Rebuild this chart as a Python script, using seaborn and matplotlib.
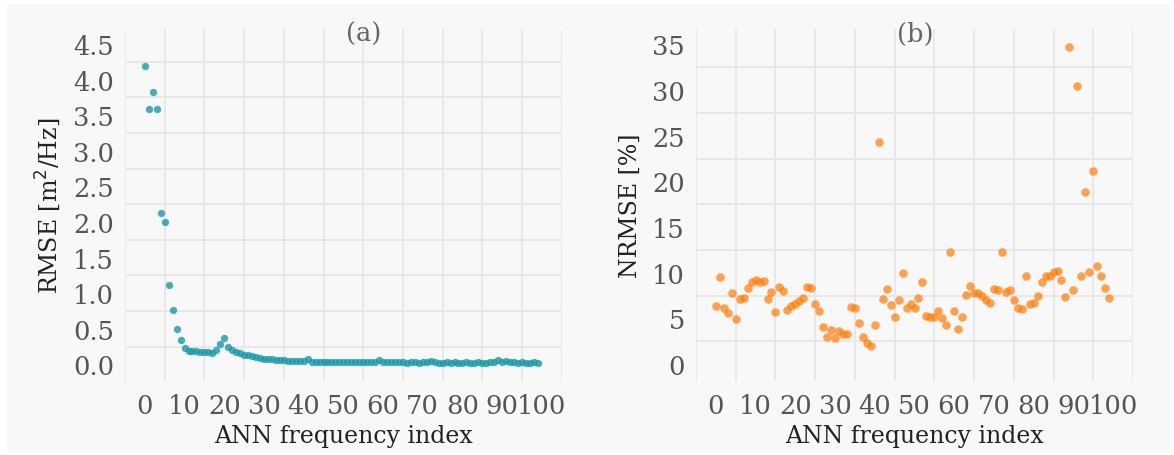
import numpy as np
import pandas as pd
import matplotlib
matplotlib.use("Agg")
import matplotlib.pyplot as plt
from matplotlib.ticker import FixedLocator
from matplotlib.patches import Rectangle
import seaborn as sns

# ANN frequency indices
freq_index = list(range(100))

# RMSE per frequency [m^2/Hz]
rmse = [
    4.19, 3.59, 3.82, 3.58, 2.13, 2.00, 1.11, 0.77, 0.50, 0.34,
    0.23, 0.19, 0.185, 0.185, 0.18, 0.18, 0.17, 0.155, 0.20, 0.28,
    0.37, 0.25, 0.20, 0.175, 0.156, 0.137, 0.128, 0.114, 0.10, 0.09,
    0.08, 0.076, 0.07, 0.065, 0.06, 0.055, 0.05, 0.047, 0.044, 0.043,
    0.042, 0.08, 0.035, 0.033, 0.032, 0.03, 0.03, 0.038, 0.03, 0.028,
    0.027, 0.027, 0.028, 0.026, 0.027, 0.026, 0.027, 0.026, 0.028, 0.058,
    0.03, 0.026, 0.027, 0.026, 0.026, 0.027, 0.025, 0.026, 0.026, 0.025,
    0.026, 0.027, 0.04, 0.026, 0.025, 0.025, 0.026, 0.025, 0.026, 0.025,
    0.025, 0.026, 0.025, 0.025, 0.026, 0.025, 0.025, 0.026, 0.03, 0.06,
    0.03, 0.04, 0.027, 0.026, 0.025, 0.026, 0.025, 0.025, 0.026, 0.025,
]

# Normalised RMSE per frequency [%]
nrmse = [
    6.36, 9.54, 6.10, 5.56, 7.80, 4.94, 7.10, 7.24, 8.30, 8.96,
    9.24, 8.96, 9.10, 7.13, 7.93, 5.70, 8.44, 7.97, 5.92, 6.32,
    6.58, 6.94, 7.27, 8.46, 8.30, 6.62, 5.81, 4.10, 2.97, 3.73,
    2.82, 3.62, 3.33, 3.30, 6.29, 6.18, 4.50, 3.00, 2.28, 2.02,
    4.32, 24.35, 7.13, 8.22, 6.44, 5.12, 7.05, 9.95, 6.12, 6.55,
    6.18, 7.24, 8.99, 5.27, 5.19, 5.16, 5.78, 5.01, 4.25, 12.30,
    5.81, 3.81, 5.19, 7.53, 8.58, 7.82, 7.75, 7.42, 7.05, 6.69,
    8.22, 8.15, 12.27, 7.84, 8.08, 7.05, 6.18, 6.03, 9.68, 6.55,
    6.66, 7.46, 8.96, 9.61, 9.68, 10.05, 10.16, 9.21, 7.31, 34.70,
    8.08, 30.50, 9.61, 18.88, 10.05, 21.14, 10.78, 9.68, 8.30, 7.24,
]

x_ticks = list(range(0, 101, 10))
rmse_ticks = [0.0, 0.5, 1.0, 1.5, 2.0, 2.5, 3.0, 3.5, 4.0, 4.5]
nrmse_ticks = [0, 5, 10, 15, 20, 25, 30, 35]

df = pd.DataFrame({"index": freq_index, "rmse": rmse, "nrmse": nrmse})

sns.set_theme(style="white")
plt.rcParams["font.family"] = ["DejaVu Serif"]

BG = "#f8f8f8"
GRID = "#e8e8e8"
TICK_COLOR = "#555555"
LABEL_COLOR = "#222222"

W, H = 1174, 456
fig = plt.figure(figsize=(W / 100, H / 100), dpi=100, facecolor="white")
fig.patches.append(Rectangle((7 / W, 1 - 453 / H), (1170 - 7) / W, (453 - 5) / H,
                             transform=fig.transFigure, facecolor=BG,
                             edgecolor="none", zorder=-10))

bottom = 1 - 381.7 / H
height = (381.7 - 30) / H
ax_a = fig.add_axes([125 / W, bottom, (561.7 - 125) / W, height])
ax_b = fig.add_axes([696 / W, bottom, (1133 - 696) / W, height])

sns.scatterplot(data=df, x="index", y="rmse", ax=ax_a, color="#1b98a8",
                alpha=0.8, s=28, linewidth=0, zorder=3)
sns.scatterplot(data=df, x="index", y="nrmse", ax=ax_b, color="#ff7f0e",
                alpha=0.72, s=38, linewidth=0, zorder=3)

panels = [
    (ax_a, rmse_ticks, (-0.23, 4.71), 0.25, 0.5, "RMSE [m$^2$/Hz]", "(a)", 364),
    (ax_b, nrmse_ticks, (-1.82, 36.69), 2.5, 5, "NRMSE [%]", "(b)", 915),
]
for ax, yt, ylim, yoff, ystep, ylabel, title, title_x in panels:
    ax.set_facecolor(BG)
    ax.set_xlim(-5, 105)
    ax.set_ylim(*ylim)
    ax.set_xticks(x_ticks)
    ax.set_yticks(yt)
    if ystep == 0.5:
        ax.set_yticklabels([f"{v:.1f}" for v in yt])
    ax.xaxis.set_minor_locator(FixedLocator(np.arange(-5, 106, 10)))
    ax.yaxis.set_minor_locator(FixedLocator(np.arange(yt[0] - yoff, yt[-1] + 2 * ystep, ystep)))
    ax.grid(False, which="major")
    ax.grid(True, which="minor", color=GRID, linewidth=1.4)
    ax.set_axisbelow(True)
    ax.tick_params(which="both", length=0, labelsize=18.5, colors=TICK_COLOR)
    ax.tick_params(axis="x", pad=9)
    ax.tick_params(axis="y", pad=8)
    for sp in ax.spines.values():
        sp.set_visible(False)
    ax.set_xlabel("ANN frequency index", fontsize=17, color=LABEL_COLOR, labelpad=4)
    ax.set_ylabel(ylabel, fontsize=17, color=LABEL_COLOR, labelpad=7)
    fig.text(title_x / W, 1 - 34 / H, title, ha="center", va="center",
             fontsize=18.5, color="#666666")

fig.savefig("out.png", dpi=100, facecolor=fig.get_facecolor())
